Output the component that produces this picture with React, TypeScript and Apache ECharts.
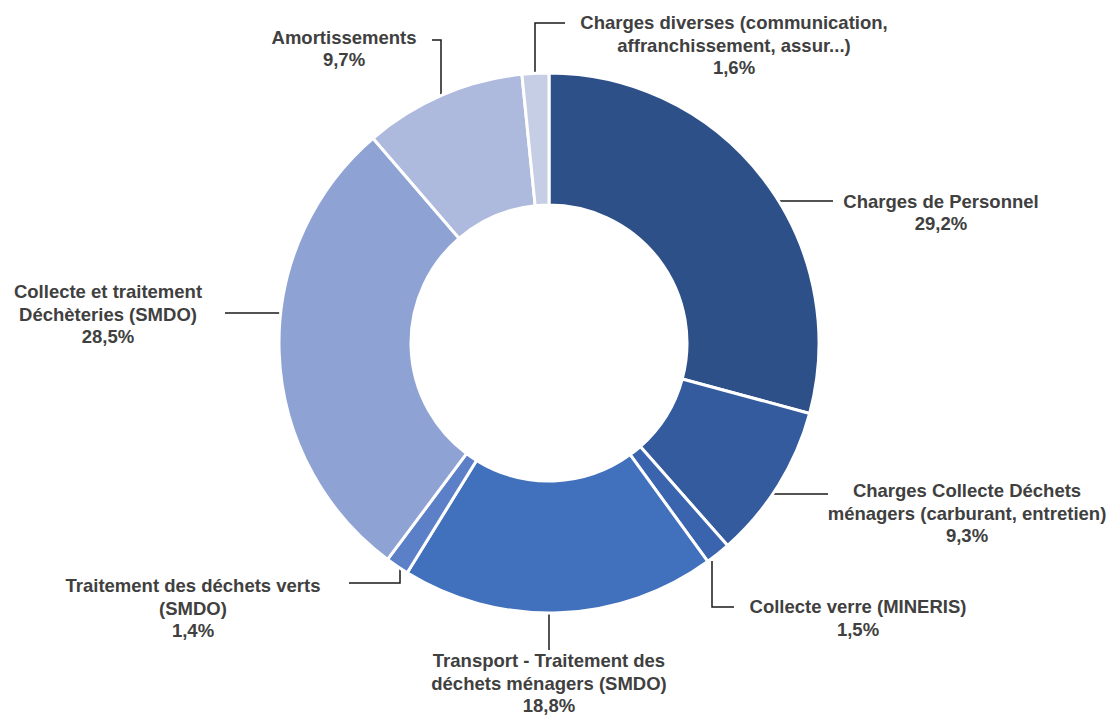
import React, { useEffect, useRef } from "react";
import * as echarts from "echarts";

const categories = [
  "Charges de Personnel",
  "Charges Collecte Déchets\nménagers (carburant, entretien)",
  "Collecte verre (MINERIS)",
  "Transport - Traitement des\ndéchets ménagers (SMDO)",
  "Traitement des déchets verts\n(SMDO)",
  "Collecte et traitement\nDéchèteries (SMDO)",
  "Amortissements",
  "Charges diverses (communication,\naffranchissement, assur...)",
];
const values = [29.2, 9.3, 1.5, 18.8, 1.4, 28.5, 9.7, 1.6];
const colors = ["#2E5089", "#345B9E", "#3A65AE", "#4170BD", "#5C80C8", "#8FA2D4", "#ADB9DD", "#C6CEE6"];

// label placement (block centre) and leader line points, per slice
const labelPos = [
  [941, 212.5], [967, 513], [858, 618], [549, 683],
  [193, 608], [108, 314], [344, 48.5], [734, 45],
];
const linePts = [
  [[778, 201], [805, 201], [833, 201]],
  [[769, 494], [800, 494], [828, 494]],
  [[712, 561], [712, 607], [734, 607]],
  [[549, 613], [549, 630], [549, 650]],
  [[400, 568], [400, 583], [349, 583]],
  [[281, 313], [250, 313], [225, 313]],
  [[441, 97], [441, 40], [432, 40]],
  [[535, 75], [535, 23], [565, 23]],
];

export default function App() {
  const ref = useRef<HTMLDivElement>(null);
  useEffect(() => {
    if (!ref.current) return;
    const chart = echarts.init(ref.current, null, { renderer: "svg" });
    chart.setOption({
      animation: false,
      backgroundColor: "#ffffff",
      series: [
        {
          type: "pie",
          center: [549, 343],
          radius: [138, 270],
          startAngle: 90,
          clockwise: true,
          avoidLabelOverlap: false,
          itemStyle: { borderColor: "#ffffff", borderWidth: 3 },
          label: {
            show: true,
            position: "outside",
            formatter: (p: any) => `${p.name}\n${String(p.value).replace(".", ",")}%`,
            fontFamily: "'Liberation Sans', Arial, sans-serif",
            fontWeight: "bold",
            fontSize: 18.5,
            lineHeight: 22.5,
            color: "#404040",
            align: "center",
          },
          labelLine: { show: true, lineStyle: { color: "#1a1a1a", width: 1.5 } },
          labelLayout: (params: any) => {
            const i = params.dataIndex;
            return {
              x: labelPos[i][0],
              y: labelPos[i][1],
              align: "center",
              verticalAlign: "middle",
              labelLinePoints: linePts[i],
            };
          },
          data: categories.map((c, i) => ({
            name: c,
            value: values[i],
            itemStyle: { color: colors[i] },
          })),
        },
      ],
    });
    return () => chart.dispose();
  }, []);
  return (
    <div
      ref={ref}
      style={{ position: "fixed", left: 0, top: 0, width: 1108, height: 715, background: "#fff" }}
    />
  );
}
